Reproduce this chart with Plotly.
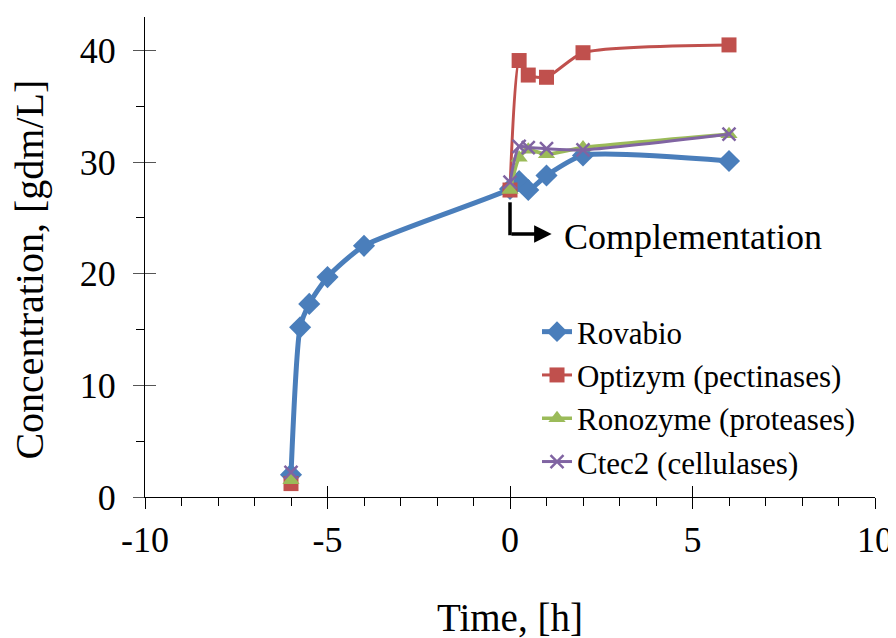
import plotly.graph_objects as go

# ---- data ----
time_rovabio = [-6, -5.75, -5.5, -5, -4, 0, 0.25, 0.5, 1, 2, 6]
rovabio = [2.0, 15.2, 17.3, 19.7, 22.5, 27.6, 28.3, 27.5, 28.8, 30.6, 30.1]

# None marks the break between the start sample and the complementation phase
time_comp = [-6, None, 0, 0.25, 0.5, 1, 2, 6]
optizym = [1.2, None, 27.5, 39.1, 37.8, 37.6, 39.8, 40.5]
ronozyme = [1.5, None, 27.5, 30.4, 31.1, 30.7, 31.3, 32.5]
ctec2 = [2.2, None, 28.2, 31.4, 31.3, 31.2, 31.1, 32.5]

series_names = ["Rovabio", "Optizym (pectinases)", "Ronozyme (proteases)", "Ctec2 (cellulases)"]

x_ticks = [-10, -5, 0, 5, 10]
x_ticktext = ["-10", "-5", "0", "5", "10"]
y_ticks = [0, 10, 20, 30, 40]

FONT = "Liberation Serif"
SMOOTH = 0.6

fig = go.Figure()

fig.add_trace(go.Scatter(
    x=time_rovabio, y=rovabio, name=series_names[0], mode="lines+markers",
    line=dict(color="#4A7EBB", width=5, shape="spline", smoothing=SMOOTH),
    marker=dict(symbol="diamond", size=17, color="#4A7EBB"),
))
fig.add_trace(go.Scatter(
    x=time_comp, y=optizym, name=series_names[1], mode="lines+markers",
    line=dict(color="#C0504D", width=3, shape="spline", smoothing=SMOOTH),
    marker=dict(symbol="square", size=15, color="#C0504D"),
    connectgaps=False,
))
fig.add_trace(go.Scatter(
    x=time_comp, y=ronozyme, name=series_names[2], mode="lines+markers",
    line=dict(color="#9BBB59", width=3.5, shape="spline", smoothing=SMOOTH),
    marker=dict(symbol="triangle-up", size=15, color="#9BBB59"),
    connectgaps=False,
))
fig.add_trace(go.Scatter(
    x=time_comp, y=ctec2, name=series_names[3], mode="lines+markers",
    line=dict(color="#8064A2", width=3, shape="spline", smoothing=SMOOTH),
    marker=dict(symbol="x-thin", size=13, color="#8064A2",
                line=dict(color="#8064A2", width=2.5)),
    connectgaps=False,
))

# invisible trace on overlay axes to carry inside half of the crossing major ticks
fig.add_trace(go.Scatter(x=[-10, 10], y=[0, 43], xaxis="x2", yaxis="y2",
                         mode="markers", marker=dict(opacity=0),
                         showlegend=False, hoverinfo="skip"))

# the page body adds an 8px offset, so the figure is 8px smaller each way
fig.update_layout(
    width=888, height=630,
    margin=dict(l=137, r=21, t=9, b=141),
    paper_bgcolor="white", plot_bgcolor="white",
    font=dict(family=FONT, color="black", size=36),
    showlegend=True,
    legend=dict(
        x=0.537, y=0.40, xanchor="left", yanchor="top",
        font=dict(family=FONT, size=31, color="black"),
        bgcolor="rgba(0,0,0,0)", itemwidth=30, tracegroupgap=0,
    ),
    xaxis=dict(
        range=[-10, 10], tickvals=x_ticks, ticktext=x_ticktext,
        showgrid=False, zeroline=False, automargin=False,
        showline=True, linecolor="black", linewidth=1.2,
        ticks="outside", ticklen=11, tickwidth=1.2, tickcolor="black",
        ticklabelstandoff=0,
        tickfont=dict(family=FONT, size=36, color="black"),
        minor=dict(dtick=1, ticks="outside", ticklen=8, tickwidth=1, tickcolor="black"),
    ),
    yaxis=dict(
        range=[0, 43], tickvals=y_ticks, showgrid=False, zeroline=False, automargin=False,
        showline=True, linecolor="black", linewidth=1.2,
        ticks="outside", ticklen=11, tickwidth=1.2, tickcolor="#555555",
        ticklabelstandoff=10,
        tickfont=dict(family=FONT, size=36, color="black"),
        minor=dict(dtick=5, ticks="outside", ticklen=8, tickwidth=1, tickcolor="black"),
    ),
    xaxis2=dict(range=[-10, 10], tickvals=x_ticks, overlaying="x", showticklabels=False,
                ticks="inside", ticklen=11, tickwidth=1.2, tickcolor="black", automargin=False,
                showgrid=False, zeroline=False, showline=False),
    yaxis2=dict(range=[0, 43], tickvals=y_ticks, overlaying="y", showticklabels=False,
                ticks="inside", ticklen=11, tickwidth=1.2, tickcolor="#555555", automargin=False,
                showgrid=False, zeroline=False, showline=False),
    annotations=[
        dict(text="Time, [h]", xref="paper", yref="paper", x=0.5, y=-0.252,
             xanchor="center", yanchor="middle", showarrow=False,
             font=dict(family=FONT, size=39, color="black")),
        dict(text="Concentration, [gdm/L]", xref="paper", yref="paper", x=-0.158, y=0.473,
             xanchor="center", yanchor="middle", textangle=-90, showarrow=False,
             font=dict(family=FONT, size=40, color="black")),
        dict(text="Complementation", xref="x", yref="y", x=1.42, y=23.3,
             xanchor="left", yanchor="middle", showarrow=False,
             font=dict(family=FONT, size=36, color="black")),
        dict(text="", xref="x", yref="y", x=1.14, y=23.57, axref="x", ayref="y",
             ax=0, ay=23.57, showarrow=True, arrowhead=2, arrowsize=1,
             arrowwidth=3.5, arrowcolor="black"),
    ],
    shapes=[
        dict(type="line", xref="x", yref="y", x0=0, x1=0, y0=26.4, y1=23.45,
             line=dict(color="black", width=3.5)),
    ],
)

fig.write_html("out.html")
